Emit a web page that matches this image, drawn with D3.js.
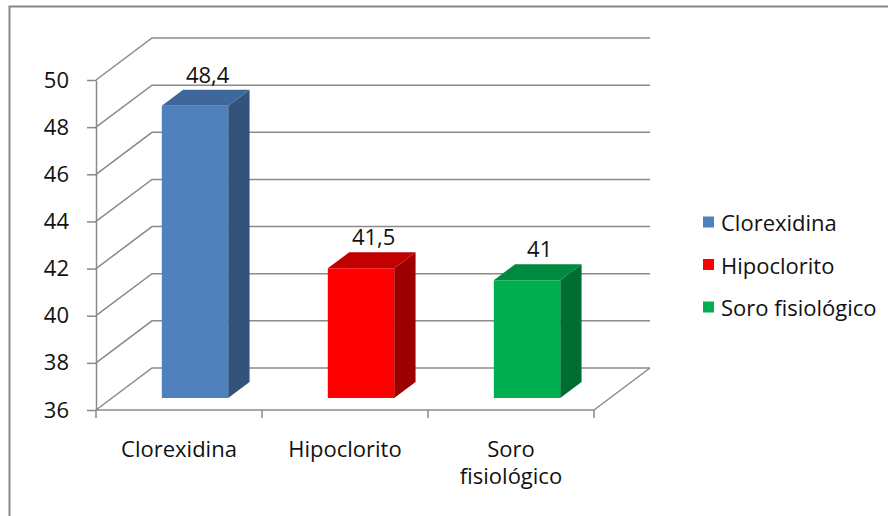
<!DOCTYPE html>
<html>
<head>
<meta charset="utf-8">
<script src="https://cdn.jsdelivr.net/npm/d3@7"></script>
<style>
  html, body { margin: 0; padding: 0; background: #fff; }
  svg { display: block; }
  svg text { font-family: "Open Sans", "Noto Sans", sans-serif; fill: #111; font-size: 22px; }
</style>
</head>
<body>
<svg id="chart" width="888" height="516"></svg>
<script>
// Chart data
const categories = ["Clorexidina", "Hipoclorito", "Soro fisiológico"];
const values = [48.4, 41.5, 41];
const yTicks = [36, 38, 40, 42, 44, 46, 48, 50];
const seriesNames = ["Clorexidina", "Hipoclorito", "Soro fisiológico"];

// Face colours per series: front, top, side
const faceColors = [
  { front: "#4F81BD", top: "#3E679B", side: "#33537C" },
  { front: "#FF0000", top: "#C20000", side: "#9C0000" },
  { front: "#00B050", top: "#008A3E", side: "#006E31" }
];

const FONT_SIZE = 21.5;
const svg = d3.select("#chart");
const ptBR = d3.formatLocale({ decimal: ",", thousands: ".", grouping: [3], currency: ["R$", ""] });
const fmt = v => Number.isInteger(v) ? String(v) : ptBR.format(".1f")(v);

// Outer chart frame (runs past the right and bottom edges)
svg.append("rect")
  .attr("x", 9.5).attr("y", 6.5)
  .attr("width", 900).attr("height", 540)
  .attr("fill", "none").attr("stroke", "#878787").attr("stroke-width", 2);

// Front plane scales and depth projection of the 3D box
const y = d3.scaleLinear().domain([36, 50]).range([410, 80]);
const x = d3.scaleBand().domain(categories).range([96, 594]).padding(0);
const DX = 56, DY = -42;              // full-depth offset of the back wall
const P = (px, py, d) => [px + d * DX, py + d * DY];
const barD0 = 0.286, barD1 = 0.667;   // bar depth span inside the box
const barFrac = 0.4;                  // bar width as share of category slot

const gridColor = "#8a8a8a";
const grid = svg.append("g").attr("fill", "none").attr("stroke", gridColor).attr("stroke-width", 1.5);
const [x0, x1] = x.range();

// Back wall gridlines and left wall diagonals
yTicks.forEach(t => {
  const a = P(x0, y(t), 0), b = P(x0, y(t), 1), c = P(x1, y(t), 1);
  grid.append("polyline").attr("points", [a, b, c].map(p => p.join(",")).join(" "));
});
// Floor right edge
{
  const a = P(x1, y(36), 0), b = P(x1, y(36), 1);
  grid.append("line").attr("x1", a[0]).attr("y1", a[1]).attr("x2", b[0]).attr("y2", b[1]);
}

// Y axis on the front plane
const yAxis = svg.append("g")
  .attr("transform", `translate(${x0},0)`)
  .call(d3.axisLeft(y).tickValues(yTicks).tickSize(9).tickSizeOuter(0).tickPadding(18).tickFormat(fmt))
  .attr("font-size", FONT_SIZE).attr("font-family", null);
yAxis.select(".domain").attr("stroke", gridColor).attr("stroke-width", 1.5);
yAxis.selectAll(".tick line").attr("stroke", gridColor).attr("stroke-width", 1.5);
yAxis.selectAll(".tick text").attr("fill", "#111").attr("font-size", FONT_SIZE);

// X axis on the front floor edge, ticks at category boundaries
const xAxisG = svg.append("g").attr("stroke", gridColor).attr("stroke-width", 1.5);
xAxisG.append("line").attr("x1", x0).attr("x2", x1).attr("y1", y(36)).attr("y2", y(36));
const bounds = categories.map(c => x(c)).concat([x1]);
bounds.forEach(bx => {
  xAxisG.append("line").attr("x1", bx).attr("x2", bx).attr("y1", y(36)).attr("y2", y(36) + 8);
});

// Category labels (multi-word labels wrap onto two lines)
categories.forEach(c => {
  const words = c.split(" ");
  const t = svg.append("text")
    .attr("x", x(c) + x.bandwidth() / 2)
    .attr("y", 457)
    .attr("text-anchor", "middle")
    .attr("font-size", FONT_SIZE);
  words.forEach((w, i) => {
    t.append("tspan").attr("x", x(c) + x.bandwidth() / 2).attr("dy", i === 0 ? 0 : 27).text(w);
  });
});

// 3D bars: front, top, and side faces
const bars = svg.append("g");
categories.forEach((c, i) => {
  const v = values[i];
  const w = x.bandwidth() * barFrac;
  const left = x(c) + (x.bandwidth() - w) / 2;
  const right = left + w;
  const col = faceColors[i];
  const fl = P(left, y(v), barD0), fr = P(right, y(v), barD0);
  const bl = P(left, y(v), barD1), br = P(right, y(v), barD1);
  const frb = P(right, y(36), barD0), brb = P(right, y(36), barD1);
  const flb = P(left, y(36), barD0);
  const poly = pts => pts.map(p => p.join(",")).join(" ");
  bars.append("polygon").attr("points", poly([fr, br, brb, frb])).attr("fill", col.side);
  bars.append("polygon").attr("points", poly([fl, bl, br, fr])).attr("fill", col.top);
  bars.append("polygon").attr("points", poly([fl, fr, frb, flb])).attr("fill", col.front);

  // value label centred above the top face
  const cx = (fl[0] + br[0]) / 2 + 2;
  svg.append("text")
    .attr("x", cx)
    .attr("y", bl[1] - 7)
    .attr("text-anchor", "middle")
    .attr("font-size", FONT_SIZE)
    .text(fmt(v));
});

// Legend
const legend = svg.append("g");
seriesNames.forEach((n, i) => {
  const cy = 222 + i * 42.5;
  legend.append("rect").attr("x", 703).attr("y", cy - 5.5).attr("width", 11).attr("height", 11)
    .attr("fill", faceColors[i].front);
  legend.append("text").attr("x", 721).attr("y", cy).attr("dominant-baseline", "central")
    .attr("font-size", FONT_SIZE).text(n);
});
</script>
</body>
</html>
